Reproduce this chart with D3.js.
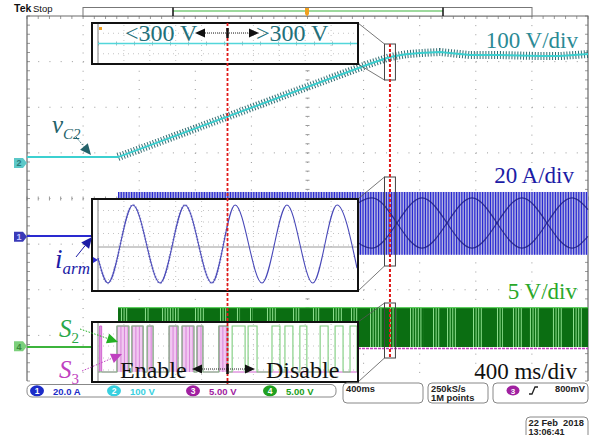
<!DOCTYPE html>
<html><head><meta charset="utf-8">
<script src="https://cdn.jsdelivr.net/npm/d3@7"></script>
<style>body{margin:0;background:#fff}svg{display:block}</style>
</head><body><svg id="c" width="597" height="435"></svg>
<script>
// ---------- acquisition ----------
const timeSpanMs = [0, 4000];                 // 10 div x 400 ms/div
const divRange = [-4, 4];                      // 8 vertical divisions
const startMs = 649;                           // converter starts switching
const switchMs = 2588;                         // S3 disabled once vC2 > 300 V
const zoomMs = [2549, 2627];                   // window shown in the insets

// ---------- vC2 (ch2, 100 V/div) ----------
const vc2Ms    = [0, 649, 2450, 2588, 2700, 2802, 2945, 3158, 3373, 3658, 3800, 4000];
const vc2Volts = [80.7, 80.7, 286, 300, 306, 308.8, 311.0, 304.4, 304.4, 302.2, 302.2, 306.6];

// ---------- iarm (ch1, 20 A/div) ----------
const iarmBandHigh = 19.3, iarmBandLow = -8.2;
const beatMs   = [2103, 2460, 2816, 3173, 3529, 3886, 4000];
const beatAmpA = [-5.3, 16.7, -5.3, 16.7, -5.3, 16.7, 11.6];
const beatAmpB = [16.7, -5.3, 16.7, -5.3, 16.7, -5.3, -0.2];

// ---------- gate signals (ch3 S3 / ch4 S2, 5 V/div) ----------
const gateHigh = 4.3;
const s2BrightMs = [[670,720],[841,877],[963,1091],[1198,1269],[1376,1426],[1497,1519],[1590,1611],
  [1711,1783],[1897,1947],[2039,2089],[2182,2253],[2310,2360],[2446,2538],[2588,2638],[2731,2824],
  [2895,2945],[2995,3066],[3180,3244],[3351,3394],[3465,3537],[3586,3658],[3750,3822],[3893,3964]];

// ---------- zoomed window ----------
const insetVc2Ms = [2549, 2627], insetVc2Volts = [300, 300];
const insetSineMs = [2549.0, 2552.0, 2559.5, 2567.7, 2575.2, 2583.3, 2590.3, 2598.4, 2605.9, 2613.7, 2621.0, 2627.0];
const insetSineA  = [0.5, -8.3, 19.3, -8.3, 19.3, -8.3, 19.3, -8.3, 19.3, -8.3, 19.3, -3.0];
const s3PulsesMs = [[2549.5,2550.1],[2554.7,2558.3],[2559.2,2562.6],[2563.8,2565.6],[2570.4,2573.1],
  [2574.3,2577.9],[2578.8,2580.6],[2585.4,2588.1]];
const s2PulsesMs = [[2554.7,2558.3],[2559.2,2562.6],[2563.8,2565.6],[2570.4,2573.1],[2574.3,2577.9],
  [2578.8,2580.6],[2585.4,2588.1],[2589.4,2593.3],[2594.2,2596.9],[2601.4,2603.8],[2605.3,2607.7],
  [2609.8,2611.9],[2615.9,2618.3],[2620.4,2622.8],[2624.9,2627.0]];

// ---------- labels ----------
const scaleLabels = ["100 V/div", "20 A/div", "5 V/div", "400 ms/div"];
const chanReadouts = [["1","20.0 A"],["2","100 V"],["3","5.00 V"],["4","5.00 V"]];
const timeReadout = "400ms", rateReadout = ["250kS/s", "1M points"], trigLevel = "800mV";
const dateReadout = ["22 Feb  2018", "13:06:41"];

// ---------- scales ----------
const svg = d3.select("#c");
const G = {l: 27, r: 588, t: 16, b: 381};
const x = d3.scaleLinear().domain(timeSpanMs).range([G.l, G.r]);
const yDiv = d3.scaleLinear().domain(divRange).range([G.b, G.t]);
const ch = {
  1: {perDiv: 20, ground: -0.822, marker: -0.84, color: "#2a2ad0"},
  2: {perDiv: 100, ground: 0.10, marker: 0.78, color: "#3cd0d0"},
  3: {perDiv: 5, ground: -3.29, color: "#c040c0"},
  4: {perDiv: 5, ground: -3.255, marker: -3.24, color: "#3cb43c"}
};
const yOf = c => v => yDiv(ch[c].ground + v / ch[c].perDiv);
const y1 = yOf(1), y2 = yOf(2), y3 = yOf(3), y4 = yOf(4);

const SERIF = "'Liberation Serif','Times New Roman',serif";
const UI = "'Liberation Sans',Arial,sans-serif";

svg.append("rect").attr("width", 597).attr("height", 435).attr("fill", "#fff");

// ---------- graticule ----------
const grat = svg.append("g");
const xDivs = d3.range(0, 11).map(i => G.l + i * (G.r - G.l) / 10);
const yDivs = d3.range(0, 9).map(i => G.t + i * (G.b - G.t) / 8);
const minorX = (G.r - G.l) / 50, minorY = (G.b - G.t) / 40;
xDivs.slice(1, 10).forEach(px => grat.append("line").attr("x1", px).attr("x2", px)
  .attr("y1", G.t).attr("y2", G.b).attr("stroke", "#9a9a9a").attr("stroke-width", 1)
  .attr("stroke-dasharray", `1 ${minorY - 1}`));
yDivs.slice(1, 8).forEach(py => grat.append("line").attr("y1", py).attr("y2", py)
  .attr("x1", G.l).attr("x2", G.r).attr("stroke", "#9a9a9a").attr("stroke-width", 1)
  .attr("stroke-dasharray", `1 ${minorX - 1}`));
// center cross ticks
const cx = xDivs[5], cy = yDivs[4];
d3.range(0, 51).forEach(i => {
  const px = G.l + i * minorX;
  grat.append("line").attr("x1", px).attr("x2", px).attr("y1", cy - 2).attr("y2", cy + 2).attr("stroke", "#9a9a9a");
  grat.append("line").attr("x1", px).attr("x2", px).attr("y1", G.t).attr("y2", G.t + 3).attr("stroke", "#9a9a9a");
});
d3.range(0, 41).forEach(i => {
  const py = G.t + i * minorY;
  grat.append("line").attr("y1", py).attr("y2", py).attr("x1", cx - 2).attr("x2", cx + 2).attr("stroke", "#9a9a9a");
  grat.append("line").attr("y1", py).attr("y2", py).attr("x1", G.l).attr("x2", G.l + 3).attr("stroke", "#9a9a9a");
  grat.append("line").attr("y1", py).attr("y2", py).attr("x1", G.r - 3).attr("x2", G.r).attr("stroke", "#9a9a9a");
});
grat.append("path").attr("d", `M${G.l},${G.b}V${G.t}H${G.r}V${G.b}`)
  .attr("fill", "none").attr("stroke", "#6a6a6a").attr("stroke-width", 1.2);

// ---------- ch2 : vC2 ----------
const vc2 = vc2Ms.map((t, i) => [t, vc2Volts[i]]);
const lineV = d3.line().x(d => x(d[0])).y(d => y2(d[1]));
svg.append("path").attr("d", lineV(vc2.filter(d => d[0] >= startMs)))
  .attr("fill", "none").attr("stroke", "#25646a").attr("stroke-width", 8)
  .attr("stroke-dasharray", "1 1.9").attr("opacity", 0.95);
svg.append("path").attr("d", lineV(vc2)).attr("fill", "none")
  .attr("stroke", ch[2].color).attr("stroke-width", 2);

// ---------- ch1 : iarm ----------
svg.append("line").attr("x1", G.l).attr("x2", x(startMs)).attr("y1", y1(0)).attr("y2", y1(0))
  .attr("stroke", ch[1].color).attr("stroke-width", 2);
const bandTop = y1(iarmBandHigh), bandBot = y1(iarmBandLow);
svg.append("rect").attr("x", x(startMs)).attr("y", bandTop).attr("width", x(timeSpanMs[1]) - x(startMs))
  .attr("height", bandBot - bandTop).attr("fill", "#b2b2e2");
svg.append("line").attr("x1", x(startMs)).attr("x2", x(timeSpanMs[1]))
  .attr("y1", (bandTop + bandBot) / 2).attr("y2", (bandTop + bandBot) / 2)
  .attr("stroke", "#2828d2").attr("stroke-width", bandBot - bandTop).attr("stroke-dasharray", "1.2 1.4");
const lineI = d3.line().x(d => x(d[0])).y(d => y1(d[1])).curve(d3.curveMonotoneX);
[beatAmpA, beatAmpB].forEach(arr => svg.append("path")
  .attr("d", lineI(beatMs.map((t, i) => [t, arr[i]])))
  .attr("fill", "none").attr("stroke", "#1a1a80").attr("stroke-width", 1.2).attr("opacity", 0.8));

// ---------- ch4 / ch3 : gate signals ----------
svg.append("line").attr("x1", G.l).attr("x2", x(startMs)).attr("y1", y4(0)).attr("y2", y4(0))
  .attr("stroke", ch[4].color).attr("stroke-width", 2);
svg.append("line").attr("x1", x(startMs)).attr("x2", x(timeSpanMs[1])).attr("y1", y3(0)).attr("y2", y3(0))
  .attr("stroke", ch[3].color).attr("stroke-width", 1.5).attr("stroke-dasharray", "3 1");
const gTop = y4(gateHigh), gBot = y4(0);
svg.append("rect").attr("x", x(startMs)).attr("y", gTop).attr("width", x(timeSpanMs[1]) - x(startMs))
  .attr("height", gBot - gTop).attr("fill", "#0b6e12");
s2BrightMs.forEach(([a, b]) => svg.append("line").attr("x1", x(a)).attr("x2", x(b))
  .attr("y1", (gTop + gBot) / 2).attr("y2", (gTop + gBot) / 2)
  .attr("stroke", "#8fe08f").attr("stroke-width", gBot - gTop).attr("stroke-dasharray", "1 1.6"));
svg.append("line").attr("x1", x(startMs)).attr("x2", x(timeSpanMs[1])).attr("y1", gTop).attr("y2", gTop)
  .attr("stroke", "#3cc83c").attr("stroke-width", 1.2);

// ---------- channel markers ----------
function marker(n, div, fill, txt) {
  const py = yDiv(div);
  svg.append("path").attr("d", `M14,${py - 5}H23L27,${py}L23,${py + 5}H14Z`).attr("fill", fill);
  svg.append("text").attr("x", 19).attr("y", py + 3.5).attr("text-anchor", "middle")
    .attr("font-family", UI).attr("font-size", 9).attr("font-weight", "bold").attr("fill", txt).text(n);
}
marker("2", ch[2].marker, "#5cc8c8", "#2a7a7a");
marker("1", ch[1].marker, "#3a3ab8", "#c8c8ff");
marker("4", ch[4].marker, "#7cd07c", "#3a8a3a");

// ---------- zoom window marks ----------
const zx0 = x(zoomMs[0]), zx1 = x(zoomMs[1]);
const insetBox = {l: 92, r: 358};
const inner = d3.scaleLinear().domain(zoomMs).range([98, 357]);
const panels = [
  {top: 23, bot: 64, zTop: 44, zBot: 80},
  {top: 199, bot: 291, zTop: 177, zBot: 266},
  {top: 322, bot: 382, zTop: 303, zBot: 358}
];
panels.forEach(p => {
  svg.append("rect").attr("x", zx0).attr("y", p.zTop).attr("width", zx1 - zx0).attr("height", p.zBot - p.zTop)
    .attr("fill", "none").attr("stroke", "#444").attr("stroke-width", 1);
  svg.append("line").attr("x1", insetBox.r).attr("y1", p.top).attr("x2", zx0).attr("y2", p.zTop)
    .attr("stroke", "#555").attr("stroke-width", 0.8);
  svg.append("line").attr("x1", insetBox.r).attr("y1", p.bot).attr("x2", zx0).attr("y2", p.zBot)
    .attr("stroke", "#555").attr("stroke-width", 0.8);
});
svg.append("line").attr("x1", x(switchMs)).attr("x2", x(switchMs)).attr("y1", panels[0].zTop).attr("y2", panels[2].zBot)
  .attr("stroke", "#e01818").attr("stroke-width", 2).attr("stroke-dasharray", "3 2");

// ---------- insets ----------
function insetFrame(p) {
  const g = svg.append("g");
  g.append("rect").attr("x", insetBox.l).attr("y", p.top).attr("width", insetBox.r - insetBox.l)
    .attr("height", p.bot - p.top).attr("fill", "#fff");
  const h = p.bot - p.top;
  d3.range(1, 10).forEach(i => {
    const px = 98 + i * (357 - 98) / 10;
    g.append("line").attr("x1", px).attr("x2", px).attr("y1", p.top + 2).attr("y2", p.bot - 2)
      .attr("stroke", "#c4c4c4").attr("stroke-dasharray", "1 4");
  });
  const rows = Math.round(h / 11.5);
  d3.range(1, rows).forEach(i => {
    const py = p.top + i * h / rows;
    g.append("line").attr("x1", 98).attr("x2", 357).attr("y1", py).attr("y2", py)
      .attr("stroke", "#c4c4c4").attr("stroke-dasharray", "1 4");
  });
  g.append("line").attr("x1", 98).attr("x2", 98).attr("y1", p.top + 1).attr("y2", p.bot - 1)
    .attr("stroke", "#a8a8a8").attr("stroke-width", 1.5);
  return g;
}
function insetBorder(p) {
  svg.append("rect").attr("x", insetBox.l).attr("y", p.top).attr("width", insetBox.r - insetBox.l)
    .attr("height", p.bot - p.top).attr("fill", "none").attr("stroke", "#111").attr("stroke-width", 2);
}

// top inset : vC2 around 300 V
const pTop = panels[0];
insetFrame(pTop);
const insetVY = d3.scaleLinear().domain([200, 400]).range([pTop.bot - 1, pTop.top + 1]);
const insetLineV = d3.line().x(d => inner(d[0])).y(d => insetVY(d[1]));
const iv = insetVc2Ms.map((t, i) => [t, insetVc2Volts[i]]);
svg.append("path").attr("d", insetLineV(iv)).attr("stroke", "#4a7a80").attr("stroke-width", 4)
  .attr("fill", "none").attr("stroke-dasharray", "1 17").attr("opacity", 0.5);
svg.append("path").attr("d", insetLineV(iv)).attr("stroke", "#52d6da").attr("stroke-width", 1.5).attr("fill", "none");
svg.append("rect").attr("x", 99).attr("y", 27).attr("width", 3).attr("height", 3).attr("fill", "#f0a020");
const tealTxt = "#23707a";
svg.append("text").attr("x", 125).attr("y", 41).attr("font-family", SERIF).attr("font-size", 24)
  .attr("fill", tealTxt).text("<300 V");
svg.append("text").attr("x", 256).attr("y", 41).attr("font-family", SERIF).attr("font-size", 24)
  .attr("fill", tealTxt).text(">300 V");

function doubleArrow(y, xl, xr) {
  const xm = inner(switchMs);
  svg.append("line").attr("x1", xl + 8).attr("x2", xr - 8).attr("y1", y).attr("y2", y)
    .attr("stroke", "#222").attr("stroke-width", 1).attr("stroke-dasharray", "1 1");
  svg.append("path").attr("d", `M${xl},${y}L${xl + 10},${y - 4.5}L${xl + 10},${y + 4.5}Z`).attr("fill", "#111");
  svg.append("path").attr("d", `M${xr},${y}L${xr - 10},${y - 4.5}L${xr - 10},${y + 4.5}Z`).attr("fill", "#111");
  svg.append("line").attr("x1", xm).attr("x2", xm).attr("y1", y - 5).attr("y2", y + 5)
    .attr("stroke", "#111").attr("stroke-width", 2.5);
}
insetBorder(pTop);

// middle inset : iarm sinusoid
const pMid = panels[1];
insetFrame(pMid);
svg.append("line").attr("x1", 98).attr("x2", 357).attr("y1", 247).attr("y2", 247).attr("stroke", "#9a9a9a");
const insetIY = d3.scaleLinear().domain([-8.3, 19.3]).range([283, 205]);
const sine = insetSineMs.map((t, i) => [t, insetSineA[i]]);
const insetLineI = d3.line().x(d => inner(d[0])).y(d => insetIY(d[1])).curve(d3.curveMonotoneX);
svg.append("clipPath").attr("id", "enableClip").append("rect")
  .attr("x", 96).attr("y", pMid.top).attr("width", inner(switchMs) - 96).attr("height", pMid.bot - pMid.top);
svg.append("path").attr("d", insetLineI(sine)).attr("clip-path", "url(#enableClip)")
  .attr("fill", "none").attr("stroke", "#6a6ab8").attr("stroke-width", 2.4).attr("stroke-dasharray", "1 2").attr("opacity", 0.55);
svg.append("path").attr("d", insetLineI(sine)).attr("fill", "none").attr("stroke", "#4848b8").attr("stroke-width", 1.1);
svg.append("path").attr("d", "M93,257L98,260L93,263Z").attr("fill", "#2a2ad0");
insetBorder(pMid);

// bottom inset : gate pulses
const pBot = panels[2];
insetFrame(pBot);
const insetGY = d3.scaleLinear().domain([0, gateHigh]).range([372, 326]);
s3PulsesMs.forEach(([a, b]) => {
  svg.append("rect").attr("x", inner(a)).attr("y", insetGY(gateHigh)).attr("width", inner(b) - inner(a))
    .attr("height", insetGY(0) - insetGY(gateHigh)).attr("fill", "#f1c8f1");
  svg.append("line").attr("x1", inner(a)).attr("x2", inner(b))
    .attr("y1", (insetGY(0) + insetGY(gateHigh)) / 2).attr("y2", (insetGY(0) + insetGY(gateHigh)) / 2)
    .attr("stroke", "#d884d8").attr("stroke-width", insetGY(0) - insetGY(gateHigh)).attr("stroke-dasharray", "1 2.5");
});
function stepPts(pulses, level) {
  const pts = [[zoomMs[0], 0]];
  pulses.forEach(([a, b]) => { pts.push([a, 0], [a, level], [b, level], [b, 0]); });
  pts.push([zoomMs[1], 0]);
  return pts;
}
const stepLine = d3.line().x(d => inner(d[0])).y(d => insetGY(d[1]));
svg.append("path").attr("d", stepLine(stepPts(s3PulsesMs, gateHigh))).attr("fill", "none")
  .attr("stroke", "#d060d0").attr("stroke-width", 1);
svg.append("path").attr("d", stepLine(stepPts(s2PulsesMs, gateHigh))).attr("fill", "none")
  .attr("stroke", "#7ccc7c").attr("stroke-width", 1.1);
svg.append("text").attr("x", 120).attr("y", 378).attr("font-family", SERIF).attr("font-size", 24)
  .attr("fill", "#111").text("Enable");
svg.append("text").attr("x", 266).attr("y", 378).attr("font-family", SERIF).attr("font-size", 24)
  .attr("fill", "#111").text("Disable");
insetBorder(pBot);

// red marker through the insets
svg.append("line").attr("x1", inner(switchMs)).attr("x2", inner(switchMs)).attr("y1", pTop.top).attr("y2", 385)
  .attr("stroke", "#e01818").attr("stroke-width", 1.8).attr("stroke-dasharray", "3 2");
doubleArrow(33, 195, 259);
doubleArrow(369, 192, 255);

// ---------- scale annotations ----------
const ann = [
  {t: scaleLabels[0], x: 578, y: 48, c: "#2b8a95"},
  {t: scaleLabels[1], x: 574, y: 183, c: "#1c1ca6"},
  {t: scaleLabels[2], x: 577, y: 299, c: "#2aa82a"},
  {t: scaleLabels[3], x: 577, y: 379, c: "#111"}
];
ann.forEach(a => svg.append("text").attr("x", a.x).attr("y", a.y).attr("text-anchor", "end")
  .attr("font-family", SERIF).attr("font-size", 23).attr("fill", a.c).text(a.t));

// ---------- signal labels ----------
function sigLabel(main, sub, xPos, yPos, size, subSize, color, italicSub) {
  const t = svg.append("text").attr("x", xPos).attr("y", yPos).attr("font-family", SERIF)
    .attr("font-style", "italic").attr("fill", color);
  t.append("tspan").attr("font-size", size).text(main);
  t.append("tspan").attr("font-size", subSize).attr("dy", 6).attr("font-style", italicSub ? "italic" : "normal").text(sub);
}
function pointer(x0, y0, x1, y1, color, dashed) {
  const ang = Math.atan2(y1 - y0, x1 - x0), L = 11, Wd = 5;
  const bx = x1 - L * Math.cos(ang), by = y1 - L * Math.sin(ang);
  svg.append("line").attr("x1", x0).attr("y1", y0).attr("x2", bx).attr("y2", by)
    .attr("stroke", color).attr("stroke-width", 1).attr("stroke-dasharray", dashed ? "1.5 1.5" : null);
  const px = -Math.sin(ang) * Wd, py = Math.cos(ang) * Wd;
  svg.append("path").attr("d", `M${x1},${y1}L${bx + px},${by + py}L${bx - px},${by - py}Z`).attr("fill", color);
}
sigLabel("v", "C2", 52, 133, 25, 15, "#24626a", true);
pointer(76, 137, 91, 155, "#24626a", true);
sigLabel("i", "arm", 55, 268, 27, 17, "#1c1ca6", true);
pointer(76, 257, 92, 237, "#1c1ca6", false);
sigLabel("S", "2", 59, 337, 25, 15, "#2aa84a", false);
pointer(80, 329, 118, 342, "#22b022", true);
sigLabel("S", "3", 59, 378, 25, 15, "#c040c0", false);
pointer(82, 371, 122, 354, "#c040c0", true);

// ---------- header ----------
svg.append("text").attr("x", 14).attr("y", 12).attr("font-family", UI).attr("font-weight", "bold")
  .attr("font-size", 10.5).attr("fill", "#111").text("Tek");
svg.append("text").attr("x", 33).attr("y", 12).attr("font-family", UI)
  .attr("font-size", 9.5).attr("fill", "#111").text("Stop");
svg.append("rect").attr("x", 83).attr("y", 7.5).attr("width", 449).attr("height", 8.5)
  .attr("fill", "#fff").attr("stroke", "#777").attr("stroke-width", 1);
svg.append("line").attr("x1", 173).attr("x2", 443).attr("y1", 11).attr("y2", 11).attr("stroke", "#3cb43c").attr("stroke-width", 1.2);
[173, 443].forEach(px => svg.append("line").attr("x1", px).attr("x2", px).attr("y1", 7.5).attr("y2", 16)
  .attr("stroke", "#111").attr("stroke-width", 1.5));
svg.append("path").attr("d", "M305,8H309V14L307,16.5L305,14Z").attr("fill", "#f0a020");

// ---------- status bar ----------
const sb = svg.append("g").attr("font-family", UI).attr("font-weight", "bold");
sb.append("rect").attr("x", 27).attr("y", 384.5).attr("width", 309).attr("height", 12.5).attr("rx", 5)
  .attr("fill", "#fff").attr("stroke", "#888");
const chipCol = ["#1c2cc8", "#38d0e0", "#a020a0", "#20a020"];
const chipX = [37, 114, 193, 270];
chanReadouts.forEach(([n, txt], i) => {
  sb.append("ellipse").attr("cx", chipX[i]).attr("cy", 390.8).attr("rx", 7).attr("ry", 5.5).attr("fill", chipCol[i]);
  sb.append("text").attr("x", chipX[i]).attr("y", 394).attr("text-anchor", "middle").attr("font-size", 8.5)
    .attr("fill", "#fff").text(n);
  sb.append("text").attr("x", chipX[i] + 16).attr("y", 394.5).attr("font-size", 9.5).attr("fill", chipCol[i]).text(txt);
});
[[343, 80], [428, 60], [493, 95]].forEach(([bx, bw]) => sb.append("rect").attr("x", bx).attr("y", 383)
  .attr("width", bw).attr("height", 20).attr("rx", 4).attr("fill", "#fff").attr("stroke", "#888"));
sb.append("text").attr("x", 346).attr("y", 392).attr("font-size", 9.3).attr("fill", "#222").text(timeReadout);
sb.append("text").attr("x", 431).attr("y", 392).attr("font-size", 9.3).attr("fill", "#222").text(rateReadout[0]);
sb.append("text").attr("x", 431).attr("y", 401).attr("font-size", 9.3).attr("fill", "#222").text(rateReadout[1]);
sb.append("ellipse").attr("cx", 513).attr("cy", 390.5).attr("rx", 6.5).attr("ry", 5).attr("fill", chipCol[2]);
sb.append("text").attr("x", 513).attr("y", 393.5).attr("text-anchor", "middle").attr("font-size", 8).attr("fill", "#fff").text("3");
sb.append("path").attr("d", "M529,394H532L535,387H538").attr("fill", "none").attr("stroke", "#222").attr("stroke-width", 1.3);
sb.append("text").attr("x", 585).attr("y", 392).attr("text-anchor", "end").attr("font-size", 9.3).attr("fill", "#222").text(trigLevel);
sb.append("rect").attr("x", 526).attr("y", 417).attr("width", 62).attr("height", 22).attr("rx", 4)
  .attr("fill", "#fff").attr("stroke", "#888");
sb.append("text").attr("x", 528.5).attr("y", 426).attr("font-size", 9.3).attr("fill", "#222")
  .attr("xml:space", "preserve").style("white-space", "pre").text(dateReadout[0]);
sb.append("text").attr("x", 528.5).attr("y", 434.5).attr("font-size", 9).attr("fill", "#222").text(dateReadout[1]);
</script></body></html>
